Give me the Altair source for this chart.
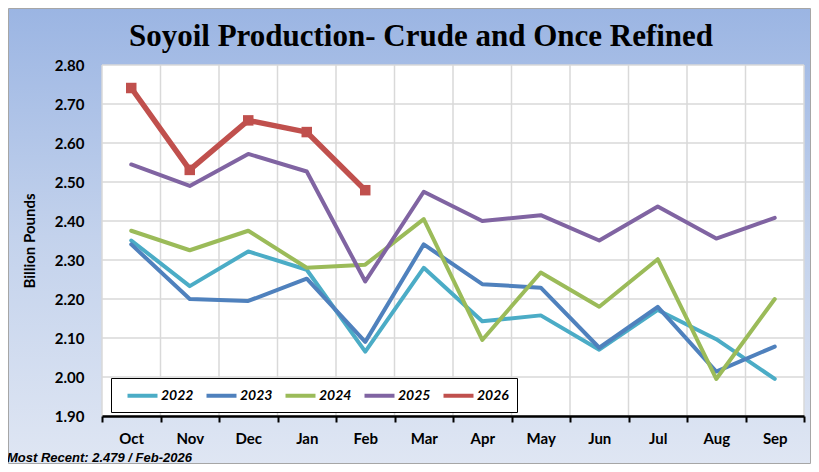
import altair as alt
import pandas as pd

# ---- data ----
months = ["Oct", "Nov", "Dec", "Jan", "Feb", "Mar", "Apr", "May", "Jun", "Jul", "Aug", "Sep"]
years = ["2022", "2023", "2024", "2025", "2026"]
v2022 = [2.350, 2.233, 2.322, 2.275, 2.065, 2.280, 2.143, 2.158, 2.070, 2.172, 2.097, 1.995]
v2023 = [2.340, 2.200, 2.195, 2.252, 2.090, 2.340, 2.238, 2.229, 2.075, 2.180, 2.014, 2.078]
v2024 = [2.375, 2.325, 2.375, 2.280, 2.288, 2.405, 2.095, 2.268, 2.180, 2.302, 1.995, 2.200]
v2025 = [2.545, 2.490, 2.572, 2.527, 2.245, 2.475, 2.400, 2.415, 2.350, 2.437, 2.355, 2.408]
v2026 = [2.741, 2.531, 2.658, 2.628, 2.479]
colors = ["#4BACC6", "#4F81BD", "#9BBB59", "#8064A2", "#C0504D"]
y_ticks = [1.90, 2.00, 2.10, 2.20, 2.30, 2.40, 2.50, 2.60, 2.70, 2.80]
title_text = "Soyoil Production- Crude and Once Refined"
y_title = "Billion Pounds"
footnote = "Most Recent: 2.479 / Feb-2026"

series = [v2022, v2023, v2024, v2025, v2026]
rows = []
for yr, vals in zip(years, series):
    for m, v in zip(months, vals):
        rows.append({"year": yr, "month": m, "value": v})
df = pd.DataFrame(rows)
df_2026 = df[df["year"] == "2026"]
grid_y = pd.DataFrame({"value": y_ticks})
grid_x = pd.DataFrame({"month": months})
one = pd.DataFrame({"a": [0]})

W, H = 702, 351
PL, PT, PR, PB = 94, 57, 7, 48

xscale = alt.Scale(type="band", domain=months, paddingInner=0, paddingOuter=0)
yscale = alt.Scale(domain=[1.9, 2.8], nice=False, zero=False)

x_axis = alt.Axis(title=None, labelAngle=0, tickBand="extent", grid=False,
                  domainColor="black", domainWidth=2.5,
                  tickColor="black", tickWidth=2, tickSize=6,
                  labelFont="Lato", labelFontWeight="bold", labelFontSize=15,
                  labelColor="black", labelPadding=9, zindex=1)
y_axis = alt.Axis(title=y_title, values=y_ticks, format=".2f", grid=False,
                  domain=False, ticks=False, labelPadding=18,
                  labelFont="Lato", labelFontWeight="bold", labelFontSize=15,
                  labelColor="black",
                  titleFont="Lato", titleFontWeight="bold", titleFontSize=15,
                  titleColor="black", titleX=-73, titleY=H / 2,
                  titleBaseline="middle", titleAngle=-90, zindex=1)

X = lambda bp: alt.X("month:N", scale=xscale, sort=months, bandPosition=bp, axis=x_axis, title=None)
Y = alt.Y("value:Q", scale=yscale, axis=y_axis, title=y_title)

bg = alt.Chart(one).mark_rect(
    fill=alt.LinearGradient(
        gradient="linear",
        stops=[alt.GradientStop(color="#9BB5E3", offset=0),
               alt.GradientStop(color="#C3D2EC", offset=0.5),
               alt.GradientStop(color="#DFE6F3", offset=1)],
        x1=0, x2=0, y1=0, y2=1),
    stroke="#A6A6A6", strokeWidth=1,
).encode(x=alt.value(-PL + 0.5), x2=alt.value(W + PR - 0.5),
         y=alt.value(-PT + 0.5), y2=alt.value(H + PB - 0.5))

plotbg = alt.Chart(one).mark_rect(fill="white").encode(
    x=alt.value(0), x2=alt.value(W), y=alt.value(0), y2=alt.value(H))

hgrid = alt.Chart(grid_y).mark_rule(color="#D9D9D9", strokeWidth=1.5).encode(y=Y)

vgrid = alt.Chart(grid_x).mark_rule(color="#D9D9D9", strokeWidth=1.5).encode(x=X(0))

vgrid_end = alt.Chart(one).mark_rule(color="#D9D9D9", strokeWidth=1.5).encode(
    x=alt.value(W), y=alt.value(0), y2=alt.value(H))

lines = alt.Chart(df).mark_line(strokeCap="round", strokeJoin="round").encode(
    x=X(0.5),
    y=Y,
    color=alt.Color("year:N", scale=alt.Scale(domain=years, range=colors),
                    legend=alt.Legend(title=None, orient="none", legendX=9, legendY=313,
                                      direction="horizontal", columns=5,
                                      symbolType="M-2,0H2", symbolSize=225,
                                      symbolStrokeWidth=4, symbolOffset=14,
                                      labelOffset=9, columnPadding=4,
                                      labelFont="Lato", labelFontWeight="bold",
                                      labelFontStyle="italic", labelFontSize=14,
                                      labelColor="black",
                                      padding=8, fillColor="white",
                                      strokeColor="black", zindex=1)),
    strokeWidth=alt.condition(alt.datum.year == "2026", alt.value(5.5), alt.value(4)),
    order=alt.Order("month_idx:Q"),
).transform_calculate(
    month_idx="indexof(" + str(months) + ", datum.month)"
)

pts = alt.Chart(df_2026).mark_point(shape="square", filled=True, size=110, opacity=1).encode(
    x=X(0.5), y=Y, color=alt.value("#C0504D"))

title = alt.Chart(one).mark_text(
    text=title_text, font="Liberation Serif", fontWeight="bold", fontSize=31,
    align="center", baseline="alphabetic", color="black",
).encode(x=alt.value(319), y=alt.value(-19))

foot = alt.Chart(one).mark_text(
    text=footnote, font="Liberation Sans", fontWeight="bold", fontStyle="italic",
    fontSize=13, align="left", baseline="alphabetic", color="black",
).encode(x=alt.value(-95), y=alt.value(H + 46))

chart = alt.layer(bg, plotbg, hgrid, vgrid, vgrid_end, lines, pts, title, foot).properties(
    width=W, height=H,
    autosize=alt.AutoSizeParams(type="none"),
    padding={"left": PL, "top": PT, "right": PR, "bottom": PB},
).configure_view(stroke=None)

chart.save("out.html", embed_options={"renderer": "svg", "actions": False})
